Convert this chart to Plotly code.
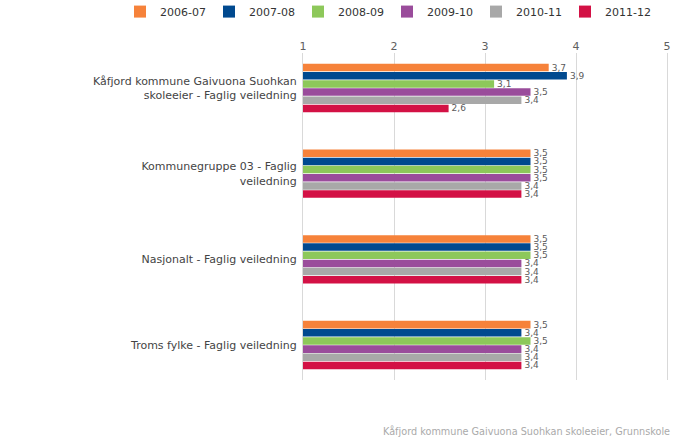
import plotly.graph_objects as go

categories = [
    "Kåfjord kommune Gaivuona Suohkan<br>skoleeier - Faglig veiledning",
    "Kommunegruppe 03 - Faglig<br>veiledning",
    "Nasjonalt - Faglig veiledning",
    "Troms fylke - Faglig veiledning",
]
years = ["2006-07", "2007-08", "2008-09", "2009-10", "2010-11", "2011-12"]
v_2006_07 = [3.7, 3.5, 3.5, 3.5]
v_2007_08 = [3.9, 3.5, 3.5, 3.4]
v_2008_09 = [3.1, 3.5, 3.5, 3.5]
v_2009_10 = [3.5, 3.5, 3.4, 3.4]
v_2010_11 = [3.4, 3.4, 3.4, 3.4]
v_2011_12 = [2.6, 3.4, 3.4, 3.4]
series = [v_2006_07, v_2007_08, v_2008_09, v_2009_10, v_2010_11, v_2011_12]
colors = ["#F6823A", "#00498F", "#8DC85A", "#9A4C9B", "#A8A8A8", "#D31145"]
x_ticks = [1, 2, 3, 4, 5]
footer = "Kåfjord kommune Gaivuona Suohkan skoleeier, Grunnskole"

FONT = "DejaVu Sans"
GRID = "#D9D9D9"
fig = go.Figure()
for name, vals, col in zip(years, series, colors):
    fig.add_trace(go.Bar(
        y=categories, x=vals, name=name, orientation="h",
        marker=dict(color=col, line=dict(width=0)),
        texttemplate="%{x:.1f}", textposition="outside",
        textfont=dict(family=FONT, size=9, color="#5A5A5A"),
        constraintext="none", cliponaxis=False,
        hoverinfo="skip",
    ))

fig.update_layout(
    width=695, height=438,
    margin=dict(l=303, r=28, t=53, b=58, autoexpand=False),
    paper_bgcolor="white", plot_bgcolor="white",
    separators=", ",
    barmode="group", bargap=0.428, bargroupgap=0.08,
    font=dict(family=FONT, size=11, color="#444444"),
    showlegend=True,
    legend=dict(
        orientation="h", xref="paper", yref="paper",
        x=(120 - 303) / 364, y=1.171, xanchor="left", yanchor="top",
        itemwidth=30, entrywidth=44, entrywidthmode="pixels",
        bgcolor="rgba(0,0,0,0)",
        font=dict(family=FONT, size=11, color="#333333"),
        traceorder="normal", itemclick=False, itemdoubleclick=False,
        tracegroupgap=0,
    ),
    xaxis=dict(
        range=[1, 5], tickvals=x_ticks, side="top",
        showgrid=True, gridcolor=GRID, gridwidth=1,
        zeroline=False, showline=False,
        tickfont=dict(family=FONT, size=11, color="#606060"),
        ticks="", fixedrange=True,
    ),
    yaxis=dict(
        type="category", categoryorder="array", categoryarray=categories,
        range=[3.408, -0.4085], showgrid=False, zeroline=False,
        showline=True, mirror=True, linecolor=GRID, linewidth=1,
        layer="below traces",
        ticks="", ticklabelstandoff=3,
        tickfont=dict(family=FONT, size=11, color="#444444"),
        fixedrange=True,
    ),
    annotations=[dict(
        text=footer, xref="paper", yref="paper", x=1.0137, y=-0.156,
        xanchor="right", yanchor="middle", showarrow=False,
        font=dict(family=FONT, size=9.7, color="#AAAAAA"),
    )],
)

fig.write_html("out.html", config={"displayModeBar": False},
               post_script="document.body.style.margin='0px';")
